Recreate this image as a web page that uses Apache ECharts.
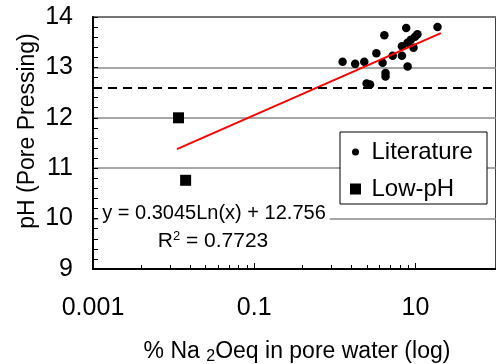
<!DOCTYPE html>
<html>
<head>
<meta charset="utf-8">
<script src="https://cdn.jsdelivr.net/npm/echarts@6/dist/echarts.min.js"></script>
<style>
  html, body { margin: 0; padding: 0; background: #fff; }
  #chart { width: 496px; height: 364px; }
</style>
</head>
<body>
<div id="chart"></div>
<script>
// Pore solution data: % Na2Oeq (log scale) vs. pH from pore pressing
const literatureNa = [1.25, 1.79, 2.32, 3.28, 4.12, 3.92, 4.26, 4.26, 2.48, 2.74, 5.23,
                      6.81, 7.69, 6.81, 8.01, 9.48, 10.6, 7.97, 8.77, 9.89, 18.8];
const literaturePH = [13.11, 13.07, 13.11, 13.28, 13.64, 13.09, 12.89, 12.82, 12.68, 12.66, 13.23,
                      13.23, 13.78, 13.42, 13.02, 13.39, 13.66, 13.49, 13.55, 13.61, 13.80];
const lowPhNa = [0.0115, 0.0141];
const lowPhPH = [12.0, 10.76];

// Logarithmic trendline end points: y = 0.3045 ln(x) + 12.756
const trendNa = [0.011, 20.7];
const trendPH = [11.38, 13.68];

// Horizontal reference level
const thresholdPH = 12.6;

// Axis ticks
const xTickLabels = [0.001, 0.1, 10];
const xMinorTicks = [0.004, 0.009, 0.016, 0.025, 0.036, 0.049, 0.064, 0.081,
                     0.4, 0.9, 1.6, 2.5, 3.6, 4.9, 6.4, 8.1];
const yMin = 9, yMax = 14;

const FONT = "'Liberation Sans', Arial, Helvetica, sans-serif";
const zip = (xs, ys) => xs.map((x, i) => [x, ys[i]]);

const chart = echarts.init(document.getElementById('chart'), null, { renderer: 'canvas' });

chart.setOption({
  animation: false,
  backgroundColor: '#fff',
  textStyle: { fontFamily: FONT, color: '#000' },
  grid: {
    left: 93, top: 17, right: -8, bottom: 95,
    show: true, borderColor: '#000', borderWidth: 1.5, backgroundColor: 'transparent'
  },
  xAxis: [
    {
      type: 'log', min: 0.001, max: 100,
      axisLine: { show: true, lineStyle: { color: '#000', width: 2 } },
      axisTick: { show: true, inside: true, length: 6, customValues: xTickLabels,
                  lineStyle: { color: '#000', width: 1 } },
      axisLabel: { show: true, customValues: xTickLabels, margin: 27, fontSize: 25,
                   color: '#000', fontFamily: FONT, formatter: v => String(v) },
      splitLine: { show: false },
      minorTick: { show: false }
    },
    {
      type: 'log', min: 0.001, max: 100, position: 'bottom',
      axisLine: { show: false },
      axisTick: { show: true, inside: true, length: 4, customValues: xMinorTicks,
                  lineStyle: { color: '#000', width: 1 } },
      axisLabel: { show: false },
      splitLine: { show: false }
    }
  ],
  yAxis: {
    type: 'value', min: yMin, max: yMax, interval: 1,
    axisLine: { show: true, lineStyle: { color: '#000', width: 2 } },
    axisTick: { show: true, inside: true, length: 5, lineStyle: { color: '#000', width: 1 } },
    minorTick: { show: true, splitNumber: 5, length: 5, lineStyle: { color: '#000', width: 1 } },
    axisLabel: { fontSize: 25, color: '#000', margin: 20, fontFamily: FONT },
    splitLine: { show: true, lineStyle: { color: '#888', width: 1.5 } }
  },
  legend: [
    {
      data: [{ name: 'Literature', icon: 'circle' }],
      left: 352, top: 140, padding: 0,
      itemWidth: 22, itemHeight: 7,
      textStyle: { fontSize: 24, color: '#000', fontFamily: FONT, lineHeight: 24 },
      selectedMode: false, z: 10
    },
    {
      data: [{ name: 'Low-pH', icon: 'path://M0 0H1V1H0Z' }],
      left: 350, top: 177, padding: 0,
      itemWidth: 22, itemHeight: 11,
      textStyle: { fontSize: 24, color: '#000', fontFamily: FONT, lineHeight: 24 },
      selectedMode: false, z: 10
    }
  ],
  graphic: [
    {
      type: 'rect', z: 5,
      shape: { x: 340, y: 132, width: 147, height: 72 },
      style: { fill: '#fff', stroke: '#000', lineWidth: 1 }
    },
    {
      type: 'text', z: 5,
      style: {
        x: 214, y: 213, text: 'y = 0.3045Ln(x) + 12.756',
        font: '20px ' + FONT, fill: '#000',
        align: 'center', verticalAlign: 'middle',
        textAlign: 'center', textVerticalAlign: 'middle',
        backgroundColor: '#fff', padding: [1, 4, 1, 4]
      }
    },
    {
      type: 'text', z: 5,
      style: {
        x: 213, y: 241, text: '{b|R}{s|2}{b| = 0.7723}',
        fill: '#000',
        align: 'center', verticalAlign: 'middle',
        textAlign: 'center', textVerticalAlign: 'middle',
        rich: {
          b: { fontSize: 21, fontFamily: FONT, color: '#000', lineHeight: 22 },
          s: { fontSize: 13, fontFamily: FONT, color: '#000', lineHeight: 22, verticalAlign: 'top', padding: [0, 0, 8, 0] }
        }
      }
    },
    {
      type: 'text', z: 5,
      rotation: Math.PI / 2, x: 28, y: 131,
      style: {
        x: 0, y: 0, text: 'pH (Pore Pressing)',
        font: '23px ' + FONT, fill: '#000',
        align: 'center', verticalAlign: 'middle',
        textAlign: 'center', textVerticalAlign: 'middle'
      }
    },
    {
      type: 'text', z: 5,
      style: {
        x: 297, y: 352, text: '{b|% Na }{s|2}{b|Oeq in pore water (log)}',
        fill: '#000',
        align: 'center', verticalAlign: 'middle',
        textAlign: 'center', textVerticalAlign: 'middle',
        rich: {
          b: { fontSize: 23, fontFamily: FONT, color: '#000', lineHeight: 26 },
          s: { fontSize: 16, fontFamily: FONT, color: '#000', lineHeight: 26, verticalAlign: 'bottom', padding: [10, 0, 0, 0] }
        }
      }
    }
  ],
  series: [
    {
      name: 'Literature', type: 'scatter', symbol: 'circle', symbolSize: 8.5,
      itemStyle: { color: '#000', opacity: 1 },
      data: zip(literatureNa, literaturePH), z: 3,
      markLine: {
        silent: true, symbol: 'none', label: { show: false },
        lineStyle: { color: '#000', width: 2, type: [9, 6], opacity: 1 },
        data: [{ yAxis: thresholdPH }]
      }
    },
    {
      name: 'Low-pH', type: 'scatter', symbol: 'rect', symbolSize: 11,
      itemStyle: { color: '#000', opacity: 1 },
      data: zip(lowPhNa, lowPhPH), z: 3
    },
    {
      name: 'Log. trend', type: 'line', symbol: 'none',
      lineStyle: { color: '#ff0000', width: 2 },
      data: zip(trendNa, trendPH), z: 4
    }
  ]
});
</script>
</body>
</html>
